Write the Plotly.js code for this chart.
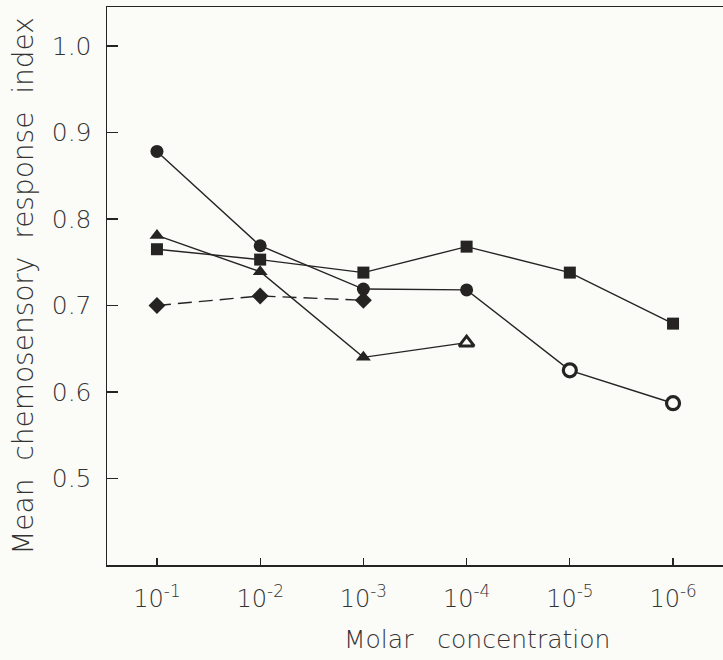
<!DOCTYPE html>
<html>
<head>
<meta charset="utf-8">
<script src="https://cdn.plot.ly/plotly-3.0.1.min.js"></script>
<style>
  html, body { margin: 0; padding: 0; background: #fbfbf8; }
  #chart { width: 723px; height: 660px; }
</style>
</head>
<body>
<div id="chart"></div>
<script>
// Categories (molar concentration) and tick labels
const categories = [0, 1, 2, 3, 4, 5];
const tickLabels = ['10<sup>-1</sup>', '10<sup>-2</sup>', '10<sup>-3</sup>', '10<sup>-4</sup>', '10<sup>-5</sup>', '10<sup>-6</sup>'];

// Series values (mean chemosensory response index)
const circleSeries   = [0.878, 0.769, 0.719, 0.718, 0.625, 0.587];
const squareSeries   = [0.765, 0.753, 0.738, 0.768, 0.738, 0.679];
const triangleSeries = [0.781, 0.739, 0.640, 0.657, null, null];
const diamondSeries  = [0.700, 0.711, 0.706, null, null, null];

// which points are drawn as open markers
const circleOpen   = [false, false, false, false, true, true];
const triangleOpen = [false, false, false, true, false, false];

const yTickVals = [0.5, 0.6, 0.7, 0.8, 0.9, 1.0];
const yTickText = ['0.5', '0.6', '0.7', '0.8', '0.9', '1.0'];

const INK = '#262323';
const BG = '#fbfbf8';

function fills(openFlags) { return openFlags.map(o => o ? BG : INK); }
function borders(openFlags, w) { return openFlags.map(o => o ? w : 0); }

const traces = [
  {
    x: categories, y: diamondSeries, mode: 'lines+markers', name: 'diamond',
    line: { color: INK, width: 1.4, dash: '14px,7px' },
    marker: { symbol: 'diamond', size: 13, color: INK }
  },
  {
    x: categories, y: triangleSeries, mode: 'lines+markers', name: 'triangle',
    line: { color: INK, width: 1.4 },
    marker: { symbol: 'triangle-up', size: 13, color: fills(triangleOpen),
              line: { color: INK, width: borders(triangleOpen, 3) } }
  },
  {
    x: categories, y: squareSeries, mode: 'lines+markers', name: 'square',
    line: { color: INK, width: 1.4 },
    marker: { symbol: 'square', size: 12, color: INK }
  },
  {
    x: categories, y: circleSeries, mode: 'lines+markers', name: 'circle',
    line: { color: INK, width: 1.4 },
    marker: { symbol: 'circle', size: 13, color: fills(circleOpen),
              line: { color: INK, width: borders(circleOpen, 3.2) } }
  }
];

const FONT = '"DejaVu Sans ExtraLight", "DejaVu Sans Light", "DejaVu Sans", sans-serif';

const layout = {
  width: 723, height: 660,
  paper_bgcolor: BG, plot_bgcolor: BG,
  showlegend: false,
  margin: { l: 107, r: 0, t: 7, b: 95 },
  font: { family: FONT, color: '#333' },
  xaxis: {
    range: [-0.484, 5.484],
    tickmode: 'array', tickvals: categories, ticktext: tickLabels,
    ticks: 'inside', ticklen: 7, tickwidth: 1.3, tickcolor: INK,
    showline: true, linecolor: INK, linewidth: 1.5, mirror: true,
    showgrid: false, zeroline: false,
    ticklabelstandoff: 12,
    tickfont: { size: 24, color: '#333', family: FONT }
  },
  yaxis: {
    range: [0.4, 1.045],
    tickmode: 'array', tickvals: yTickVals, ticktext: yTickText,
    ticks: 'inside', ticklen: 11, tickwidth: 1.3, tickcolor: INK,
    showline: true, linecolor: INK, linewidth: 1.5, mirror: false,
    showgrid: false, zeroline: false,
    ticklabelstandoff: 9,
    tickfont: { size: 25, color: '#333', family: FONT },
    title: { text: 'Mean  chemosensory  response  index', font: { size: 28, color: '#333', family: FONT }, standoff: 10 }
  },
  annotations: [
    {
      text: 'Molar   concentration', showarrow: false,
      xref: 'paper', yref: 'paper', x: 0.6, y: -0.134,
      xanchor: 'center', yanchor: 'middle',
      font: { size: 25, color: '#333', family: FONT }
    }
  ]
};

Plotly.newPlot('chart', traces, layout, { staticPlot: true, displayModeBar: false });
</script>
</body>
</html>
